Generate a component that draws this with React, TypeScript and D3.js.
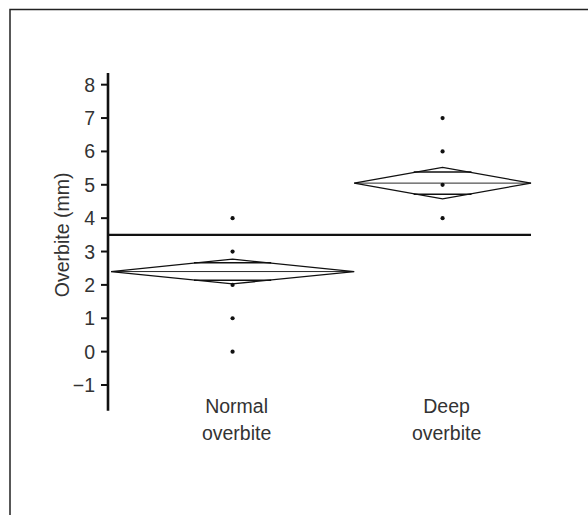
import * as React from 'react';
import * as d3 from 'd3';

// groups and their raw observations
const groups = ['Normal overbite', 'Deep overbite'];
const groupCounts = [11, 8];
const groupMeans = [2.4, 5.05];
const groupCI = [0.37, 0.47];
const normalPoints = [4, 3, 2, 1, 0];
const deepPoints = [7, 6, 5, 4];
const grandMean = 3.5;
const yTicks = [-1, 0, 1, 2, 3, 4, 5, 6, 7, 8];

const W = 588;
const H = 515;
const FONT = '"Liberation Sans", Arial, sans-serif';
const FS = 19.5;

export default function App() {
  const y = d3.scaleLinear().domain([-1.77, 8.35]).range([410.7, 73]);
  const total = d3.sum(groupCounts);
  const x = d3.scaleLinear().domain([0, total]).range([111, 531]);
  const starts = groupCounts.map((_, i) => d3.sum(groupCounts.slice(0, i)));
  const pointSets = [normalPoints, deepPoints];
  const axisX = 108;

  const fmt = (v: number) => (v < 0 ? '\u2212' + Math.abs(v) : String(v));

  return (
    <svg width={W} height={H} style={{ position: 'absolute', left: 0, top: 0 }}>
      <rect width={W} height={H} fill="#fff" />
      {/* frame, only top and left visible */}
      <path d={`M10,${H} V9.5 H${W}`} fill="none" stroke="#222" strokeWidth={1.5} />

      {/* y axis */}
      <line x1={axisX} x2={axisX} y1={y.range()[1]} y2={y.range()[0]} stroke="#111" strokeWidth={2.6} />
      {yTicks.map(t => (
        <g key={t}>
          <line x1={axisX - 7} x2={axisX} y1={y(t)} y2={y(t)} stroke="#111" strokeWidth={2} />
          <text x={95} y={y(t)} dy="0.36em" textAnchor="end" fontFamily={FONT} fontSize={FS} fill="#333">
            {fmt(t)}
          </text>
        </g>
      ))}
      <text
        transform={`translate(62,${y(3.5)}) rotate(-90)`}
        textAnchor="middle"
        dy="0.35em"
        fontFamily={FONT}
        fontSize={FS}
        fill="#333"
      >
        Overbite (mm)
      </text>

      {/* grand mean */}
      <line x1={axisX} x2={x(total)} y1={y(grandMean)} y2={y(grandMean)} stroke="#111" strokeWidth={2.2} />

      {groups.map((g, i) => {
        const x0 = x(starts[i]);
        const x1 = x(starts[i] + groupCounts[i]);
        const cx = (x0 + x1) / 2;
        const half = (x1 - x0) / 2;
        const m = groupMeans[i];
        const ci = groupCI[i];
        const ov = ci / Math.SQRT2;
        const ovHalf = half * (1 - ov / ci);
        const diamond = d3.line()([
          [x0, y(m)],
          [cx, y(m + ci)],
          [x1, y(m)],
          [cx, y(m - ci)],
          [x0, y(m)],
        ]);
        const words = g.split(' ');
        return (
          <g key={g}>
            <path d={diamond ?? ''} fill="none" stroke="#111" strokeWidth={1.3} />
            <line x1={x0} x2={x1} y1={y(m)} y2={y(m)} stroke="#111" strokeWidth={0.9} />
            <line x1={cx - ovHalf - 3} x2={cx + ovHalf + 3} y1={y(m + ov)} y2={y(m + ov)} stroke="#111" strokeWidth={1.6} />
            <line x1={cx - ovHalf - 3} x2={cx + ovHalf + 3} y1={y(m - ov)} y2={y(m - ov)} stroke="#111" strokeWidth={1.6} />
            {pointSets[i].map((v, j) => (
              <circle key={j} cx={cx} cy={y(v)} r={2.1} fill="#111" />
            ))}
            <text x={cx + 4} y={413} textAnchor="middle" fontFamily={FONT} fontSize={FS} fill="#333">
              <tspan x={cx + 4}>{words[0]}</tspan>
              <tspan x={cx + 4} dy={27}>{words[1]}</tspan>
            </text>
          </g>
        );
      })}
    </svg>
  );
}
